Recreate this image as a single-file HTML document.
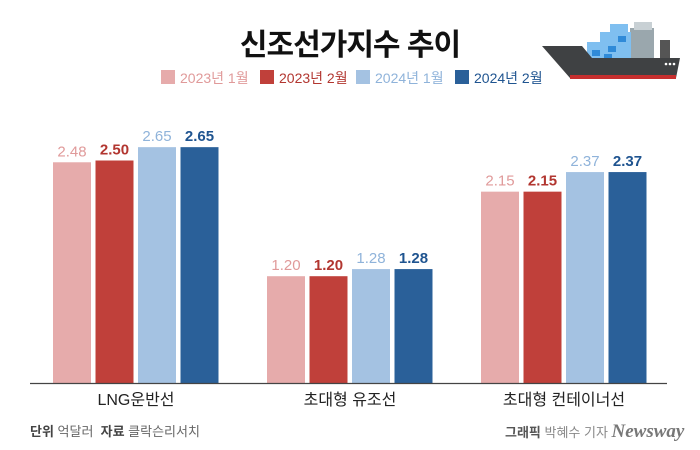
<!DOCTYPE html>
<html><head><meta charset="utf-8"><style>
body{margin:0;width:700px;height:450px;background:#fff;font-family:"Liberation Sans","Noto Sans CJK KR",sans-serif;overflow:hidden;position:relative}
.t{position:absolute;white-space:nowrap}
</style></head><body>
<div class="t" style="left:0;width:700px;top:20px;text-align:center;font-size:30px;font-weight:bold;color:#111;letter-spacing:-1px">신조선가지수 추이</div>
<svg width="170" height="80" style="position:absolute;left:530px;top:10px" viewBox="0 0 170 80">
<rect x="100" y="18" width="24" height="32" fill="#9aa7ad"/><rect x="104" y="12" width="18" height="8" fill="#c8d0d4"/>
<rect x="130" y="30" width="10" height="20" fill="#555"/>
<g fill="#7fbff0"><rect x="57" y="32" width="44" height="18"/><rect x="70" y="22" width="31" height="10"/><rect x="80" y="14" width="18" height="8"/></g>
<g fill="#2f8ad8"><rect x="62" y="40" width="8" height="6"/><rect x="78" y="36" width="8" height="6"/><rect x="88" y="26" width="8" height="6"/><rect x="74" y="44" width="8" height="6"/></g>
<polygon points="12,36 52,36 62,48 150,48 146,68 40,68" fill="#3f4143"/>
<rect x="40" y="65" width="106" height="4" fill="#c62f2f"/>
<g fill="#fff"><circle cx="136" cy="54" r="1.3"/><circle cx="140" cy="54" r="1.3"/><circle cx="144" cy="54" r="1.3"/></g>
</svg>
<div id="legend"></div>
<svg id="chart" width="700" height="450" style="position:absolute;left:0;top:0"></svg>
<div class="t" style="left:30px;top:421px;font-size:13px;color:#666"><b style="color:#444">단위</b> 억달러 &nbsp;<b style="color:#444">자료</b> 클락슨리서치</div>
<div class="t" style="left:505px;top:421px;font-size:13px;color:#888"><b style="color:#555">그래픽</b> 박혜수 기자 <i style="font-family:'Liberation Serif',serif;font-weight:bold;font-size:19px;color:#777">Newsway</i></div>
<script>
const categories=["LNG운반선","초대형 유조선","초대형 컨테이너선"];
const seriesNames=["2023년 1월","2023년 2월","2024년 1월","2024년 2월"];
const s2023_1=[2.48,1.20,2.15];
const s2023_2=[2.50,1.20,2.15];
const s2024_1=[2.65,1.28,2.37];
const s2024_2=[2.65,1.28,2.37];
const series=[s2023_1,s2023_2,s2024_1,s2024_2];
const colors=["#e6abab","#c0403a","#a4c2e2","#2a6099"];
const labelColors=["#e09a9a","#b23630","#8fb3da","#1f5490"];
const svg=document.getElementById('chart');
const NS="http://www.w3.org/2000/svg";
const base=383, scale=89;
const y=v=>base-v*scale;
const gx=i=>53+i*214;
const bx=(i,j)=>gx(i)+j*42.5;
function el(t,a){const e=document.createElementNS(NS,t);for(const k in a)e.setAttribute(k,a[k]);svg.appendChild(e);return e;}
categories.forEach((c,i)=>{
 series.forEach((s,j)=>{
  const r=el('rect',{x:bx(i,j),y:y(s[i]),width:38,height:s[i]*scale,fill:colors[j]});
  
  
  const t=el('text',{x:bx(i,j)+19,y:y(s[i])-6,'text-anchor':'middle','font-size':'15',fill:labelColors[j],'font-weight':j%2?'bold':'normal'});
  t.textContent=s[i].toFixed(2);
  
  
 });
 const t=el('text',{x:gx(i)+83,y:405,'text-anchor':'middle','font-size':'16',fill:'#222'});
 t.textContent=c;
 
 
});
const ax=el('line',{x1:30,x2:667,y1:383.5,y2:383.5,stroke:'#444','stroke-width':1.3});


const lg=[161,260,356,455];
seriesNames.forEach((n,j)=>{
 const r=el('rect',{x:lg[j],y:70,width:14,height:14,fill:colors[j]});
 
 
 const t=el('text',{x:lg[j]+19,y:83,'font-size':'14',fill:labelColors[j]});
 t.textContent=n;
 
 
});
</script>
</body></html>
